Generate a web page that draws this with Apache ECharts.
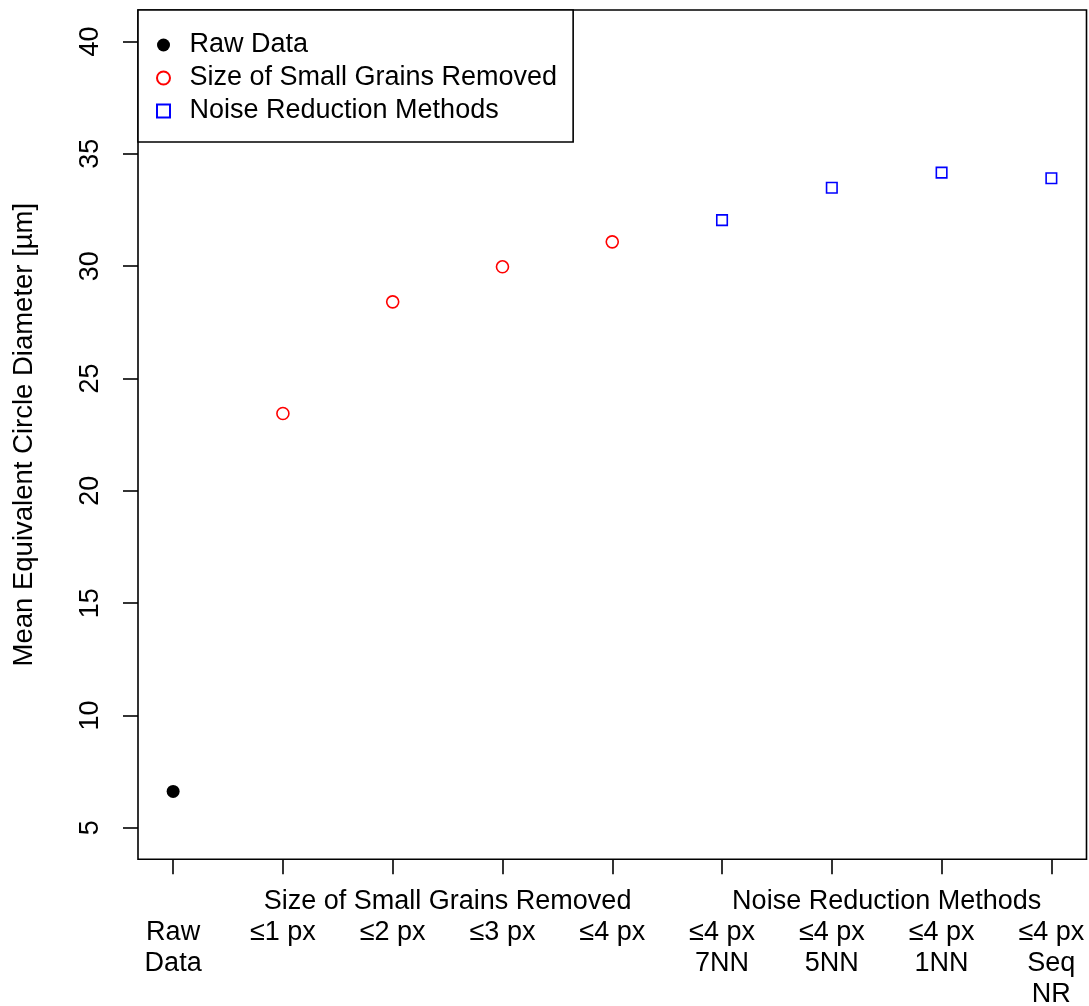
<!DOCTYPE html>
<html><head><meta charset="utf-8">
<script src="https://cdn.jsdelivr.net/npm/echarts@6/dist/echarts.min.js"></script>
<style>html,body{margin:0;padding:0;background:#fff}#c{width:1089px;height:1006px}</style>
</head><body><div id="c"></div>
<script>
// ---- data ----
const categories = ['Raw\nData', '≤1 px', '≤2 px', '≤3 px', '≤4 px', '≤4 px\n7NN', '≤4 px\n5NN', '≤4 px\n1NN', '≤4 px\nSeq\nNR'];
const rawValues = [6.62];
const grainValues = [23.44, 28.41, 29.97, 31.08];
const noiseValues = [32.05, 33.49, 34.16, 33.91];
const yTicks = [5, 10, 15, 20, 25, 30, 35, 40];
const groupLabels = ['Size of Small Grains Removed', 'Noise Reduction Methods'];
const groupCenters = [3.5, 7.5];
const seriesNames = ['Raw Data', 'Size of Small Grains Removed', 'Noise Reduction Methods'];
const legendIcons = ['circle', 'circle', 'path://M0 0H10V10H0Z'];
const yTitle = 'Mean Equivalent Circle Diameter [µm]';

// ---- build ----
const xTicks = categories.map((c, i) => i + 1);
const rawData = rawValues.map((v, i) => [1 + i, v]);
const grainData = grainValues.map((v, i) => [2 + i, v]);
const noiseData = noiseValues.map((v, i) => [2 + grainValues.length + i, v]);
const labelValues = xTicks.concat(groupCenters).sort((a, b) => a - b);

const FONT = "'Liberation Sans', Arial, Helvetica, sans-serif";
const FS = 27;
const chart = echarts.init(document.getElementById('c'), null, {renderer: 'canvas'});
chart.setOption({
  backgroundColor: '#ffffff',
  animation: false,
  textStyle: {fontFamily: FONT},
  grid: {left: 138, top: 10, right: 2.5, bottom: 146.7, show: true, borderColor: '#000', borderWidth: 1.6, backgroundColor: 'transparent', outerBoundsMode: 'none'},
  xAxis: {
    type: 'value', min: 0.68, max: 9.32,
    splitLine: {show: false},
    axisLine: {show: false},
    axisTick: {show: true, length: 15, lineStyle: {color: '#000', width: 1.6}, customValues: xTicks},
    axisLabel: {
      show: true, customValues: labelValues, margin: 27,
      fontSize: FS, lineHeight: 31, color: '#000', fontFamily: FONT, align: 'center', verticalAlign: 'top',
      formatter: function (v) {
        const gi = groupCenters.indexOf(v);
        if (gi >= 0) return groupLabels[gi];
        return '\n' + categories[Math.round(v) - 1];
      }
    }
  },
  yAxis: {
    type: 'value', min: 3.6, max: 41.4,
    splitLine: {show: false},
    axisLine: {show: false},
    axisTick: {show: true, length: 15, lineStyle: {color: '#000', width: 1.6}, customValues: yTicks},
    axisLabel: {show: true, customValues: yTicks, rotate: 90, margin: 34, fontSize: FS, color: '#000', fontFamily: FONT},
    name: yTitle, nameLocation: 'middle', nameRotate: 90, nameGap: 100,
    nameTextStyle: {fontSize: 27.5, color: '#000', fontFamily: FONT}
  },
  legend: {
    show: true, orient: 'vertical', left: 138, top: 10,
    padding: [21.5, 16, 17.5, 18], itemGap: 6, itemWidth: 42, itemHeight: 13,
    symbolKeepAspect: true,
    backgroundColor: '#fff', borderColor: '#000', borderWidth: 1.6,
    textStyle: {fontSize: FS, color: '#000', fontFamily: FONT, lineHeight: 27},
    data: seriesNames.map((n, i) => ({name: n, icon: legendIcons[i]}))
  },
  series: [
    {name: seriesNames[0], type: 'scatter', data: rawData, symbol: 'circle', symbolSize: 13, itemStyle: {color: '#000', opacity: 1}},
    {name: seriesNames[1], type: 'scatter', data: grainData, symbol: 'circle', symbolSize: 12, itemStyle: {color: '#fff', borderColor: '#ff0000', borderWidth: 1.6, opacity: 1}},
    {name: seriesNames[2], type: 'scatter', data: noiseData, symbol: 'rect', symbolSize: 10.5, itemStyle: {color: '#fff', borderColor: '#0000ff', borderWidth: 1.6, opacity: 1}}
  ]
});
</script></body></html>
